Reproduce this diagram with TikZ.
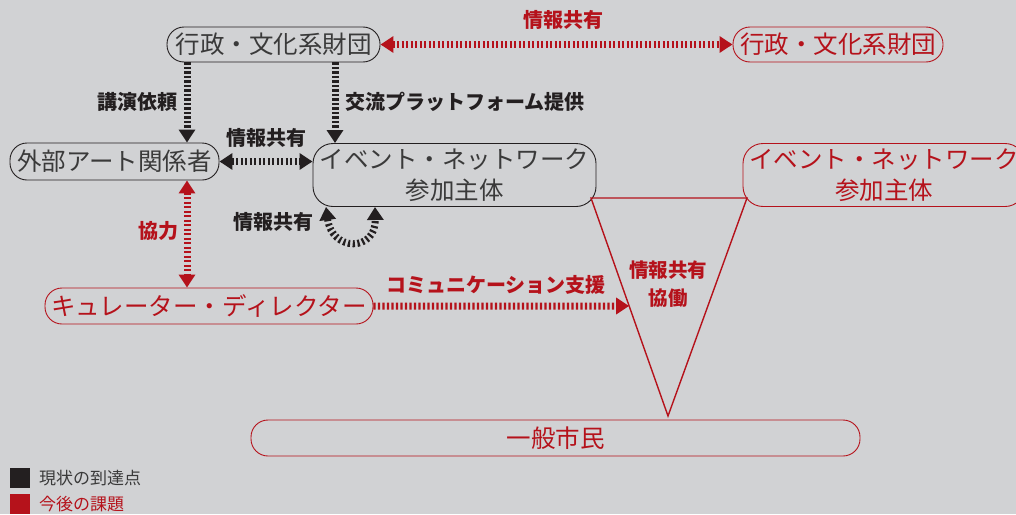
\documentclass[tikz,border=0pt]{standalone}
\usepackage{fontspec}
\setmainfont{Noto Sans CJK JP}
\usetikzlibrary{arrows.meta,calc}
\definecolor{bg}{HTML}{D1D2D4}
\definecolor{myred}{HTML}{B5121B}
\definecolor{dk}{HTML}{231F20}
\definecolor{tx}{HTML}{3A3A3A}
\tikzset{
  box/.style={draw=dk, line width=0.9pt, rounded corners=17pt, inner sep=0pt,
    font=\fontsize{24.5}{31}\selectfont, text=tx, align=center},
  rbox/.style={box, draw=myred, text=myred},
  lbl/.style={font=\fontsize{20}{24}\selectfont\bfseries, text=dk, inner sep=0pt},
  rlbl/.style={lbl, text=myred},
  tipA/.tip={Triangle[length=13pt,width=16pt]},
  darr/.style={line width=7pt, dash pattern=on 2.2pt off 2.3pt, draw=dk, -tipA},
  ddarr/.style={darr, tipA-tipA},
  rdarr/.style={ddarr, draw=myred},
  rarr/.style={darr, draw=myred},
}
\begin{document}
\begin{tikzpicture}[x=1pt,y=-1pt]
\fill[bg] (0,0) rectangle (1016,514);
\useasboundingbox (0,0) rectangle (1016,514);
\coordinate (x187) at (187,0);
\coordinate (x335) at (335,0);
% nodes
\node[box, minimum width=213pt, minimum height=35pt] (f1) at (273.5,44.5) {行政・文化系財団};
\node[rbox, minimum width=210pt, minimum height=35pt] (f2) at (838,44.5) {行政・文化系財団};
\node[box, minimum width=209pt, minimum height=37pt] (ext) at (114.5,161.5) {外部アート関係者};
\node[box, minimum width=283pt, minimum height=63pt, rounded corners=20pt] (ev) at (454.5,175) {イベント・ネットワーク\\参加主体};
\node[rbox, minimum width=282pt, minimum height=63pt, rounded corners=20pt] (ev2) at (884,175) {イベント・ネットワーク\\参加主体};
\node[rbox, minimum width=328pt, minimum height=36pt] (ky) at (209,306) {キュレーター・ディレクター};
\node[rbox, minimum width=609pt, minimum height=36pt] (pub) at (555.5,438) {一般市民};
% triangle
\coordinate (tA) at (591,198);
\coordinate (tB) at (747,198);
\coordinate (tC) at (668,416);
\draw[myred, line width=1.4pt, line join=miter] (tA) -- (tB) -- (tC) -- cycle;
\node[rlbl, align=center, font=\fontsize{19.5}{28}\selectfont\bfseries] (tri) at (668,284) {情報共有\\協働};
\coordinate (cs) at ($(tA)!0.4954!(tC)$);
% connectors
\draw[darr] (f1.south -| x187) -- (ext.north -| x187);
\draw[darr] (f1.south -| x335) -- (ev.north -| x335);
\draw[ddarr] (ext.east) -- (ev.west |- ext.east);
\coordinate (lpA) at (326,207);
\coordinate (lpB) at (375,207);
\draw[ddarr, dash pattern=on 2.2pt off 2.6pt] (lpA) .. controls (332,252) and (376,252) .. (lpB);
\draw[rdarr] (ext.south -| x187) -- (ky.north -| x187);
\draw[rdarr] (f1.east) -- (f2.west);
\draw[rarr] (ky.east) -- (cs);
% labels
\node[lbl] (l1) at (137,102) {講演依頼};
\node[lbl, anchor=west] (l2) at (345,102) {交流プラットフォーム提供};
\node[lbl] (l3) at (266,138) {情報共有};
\node[lbl] (l4) at (273,222) {情報共有};
\node[rlbl] (l5) at (158,231) {協力};
\node[rlbl] (l6) at (563,20) {情報共有};
\node[rlbl] (l7) at (496,285) {コミュニケーション支援};
% legend
\fill[dk] (10,468) rectangle (30,488);
\node[anchor=west, inner sep=0pt, font=\fontsize{17}{19}\selectfont, text=tx] (lg1) at (39,478) {現状の到達点};
\fill[myred] (10,494) rectangle (30,514);
\node[anchor=west, inner sep=0pt, font=\fontsize{17}{19}\selectfont, text=myred] (lg2) at (39,504) {今後の課題};
\end{tikzpicture}
\end{document}
